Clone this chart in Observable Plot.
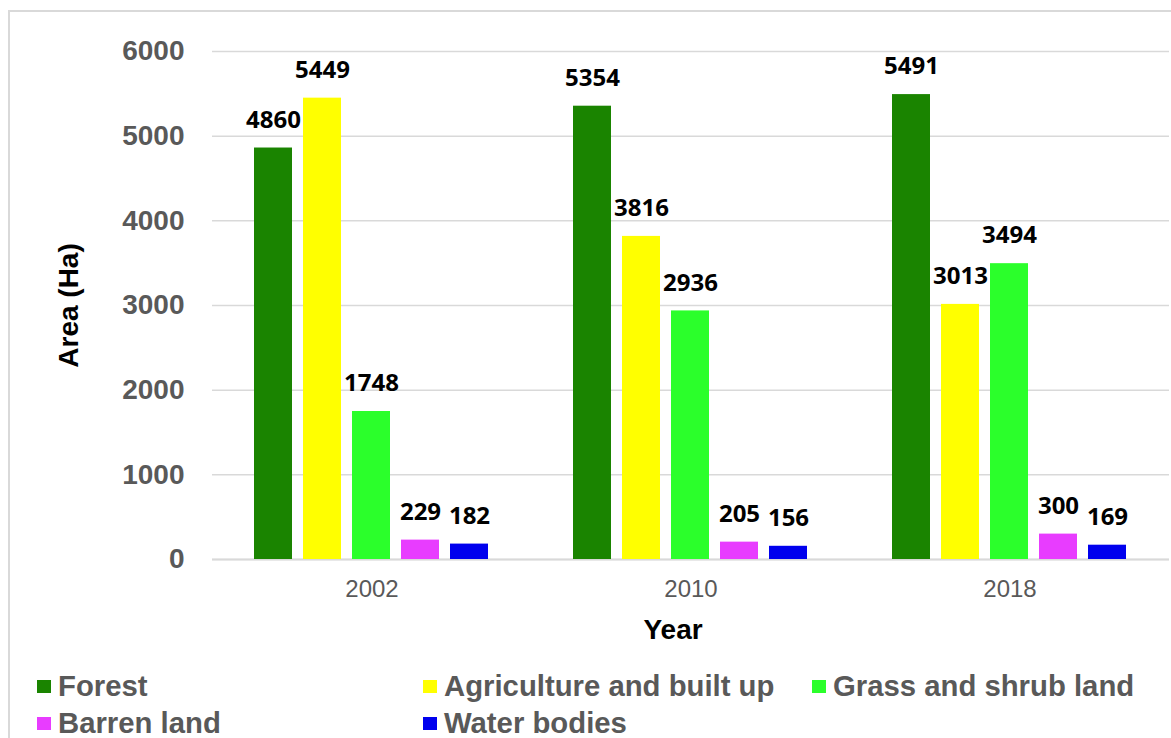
<!DOCTYPE html>
<html>
<head>
<meta charset="utf-8">
<script src="https://cdn.jsdelivr.net/npm/d3@7"></script>
<script src="https://cdn.jsdelivr.net/npm/@observablehq/plot@0.6"></script>
<style>
  html, body { margin: 0; padding: 0; background: #fff; }
  body { width: 1171px; height: 738px; position: relative; overflow: hidden; font-family: "Liberation Sans", Arial, sans-serif; }
  #frame { position: absolute; left: 8px; top: 10px; width: 1300px; height: 900px; border: 2px solid #d9d9d9; box-sizing: border-box; }
  #chart { position: absolute; left: 0; top: 0; }
  .leg { position: absolute; font-size: 29.3px; font-weight: bold; color: #595959; white-space: nowrap; line-height: 1; }
  .sw { position: absolute; width: 14px; height: 13px; }
</style>
</head>
<body>
<div id="frame"></div>
<div id="chart"></div>
<div id="legend"></div>
<script>
const years = ["2002", "2010", "2018"];
const categories = ["Forest", "Agriculture and built up", "Grass and shrub land", "Barren land", "Water bodies"];
const colors = ["#1a8400", "#ffff00", "#2bff2b", "#e83cff", "#0000ee"];
const forest = [4860, 5354, 5491];
const agriculture = [5449, 3816, 3013];
const grass = [1748, 2936, 3494];
const barren = [229, 205, 300];
const water = [182, 156, 169];
const yTicks = [0, 1000, 2000, 3000, 4000, 5000, 6000];

const series = [forest, agriculture, grass, barren, water];
const data = [];
years.forEach((yr, i) => {
  categories.forEach((c, j) => {
    data.push({year: yr, category: c, value: series[j][i]});
  });
});

const chart = Plot.plot({
  width: 1171,
  height: 660,
  marginLeft: 212,
  marginRight: 2,
  marginTop: 51,
  marginBottom: 101,
  style: {background: "transparent", overflow: "visible", fontFamily: "Liberation Sans, Arial, sans-serif"},
  fx: {domain: years, padding: 0},
  x: {domain: categories, paddingInner: 0.216, paddingOuter: 0.863, axis: null},
  y: {domain: [0, 6000]},
  color: {domain: categories, range: colors},
  marks: [
    Plot.gridY(yTicks, {stroke: "#d9d9d9", strokeOpacity: 1, strokeWidth: 1.5}),
    Plot.ruleY([0], {stroke: "#d9d9d9", strokeWidth: 2}),
    Plot.barY(data, {fx: "year", x: "category", y: "value", fill: "category"}),
    Plot.text(data, {fx: "year", x: "category", y: "value", text: d => String(d.value), dy: -28,
      fontFamily: "Open Sans", fontWeight: "bold", fontSize: 24, fill: "#000"}),
    Plot.axisY(yTicks, {tickSize: 0, tickPadding: 28, fontSize: 28, fontWeight: "bold", fill: "#595959",
      label: null, tickFormat: d => String(d)}),
    Plot.axisFx({anchor: "bottom", tickSize: 0, tickPadding: 20, fontSize: 24, fill: "#595959", label: null}),
    Plot.text([{fx: "2002", t: "Area (Ha)"}], {fx: "fx", text: "t", frameAnchor: "left", textAnchor: "middle",
      dx: -143, rotate: -90, fontSize: 28, fontWeight: "bold", fill: "#000"}),
    Plot.text([{fx: "2010", t: "Year"}], {fx: "fx", text: "t", frameAnchor: "bottom", dx: -18, dy: 79,
      fontSize: 28, fontWeight: "bold", fill: "#000"})
  ]
});
document.getElementById("chart").appendChild(chart);

// Legend
const legendPos = [[37, 675], [423, 675], [812, 675], [37, 712], [423, 712]];
const legend = document.getElementById("legend");
categories.forEach((c, i) => {
  const [lx, ly] = legendPos[i];
  const sw = document.createElement("div");
  sw.className = "sw";
  sw.style.left = lx + "px";
  sw.style.top = (ly + 5) + "px";
  sw.style.background = colors[i];
  legend.appendChild(sw);
  const t = document.createElement("div");
  t.className = "leg";
  t.style.left = (lx + 21) + "px";
  t.style.top = (ly - 4) + "px";
  t.textContent = c;
  legend.appendChild(t);
});
</script>
</body>
</html>
